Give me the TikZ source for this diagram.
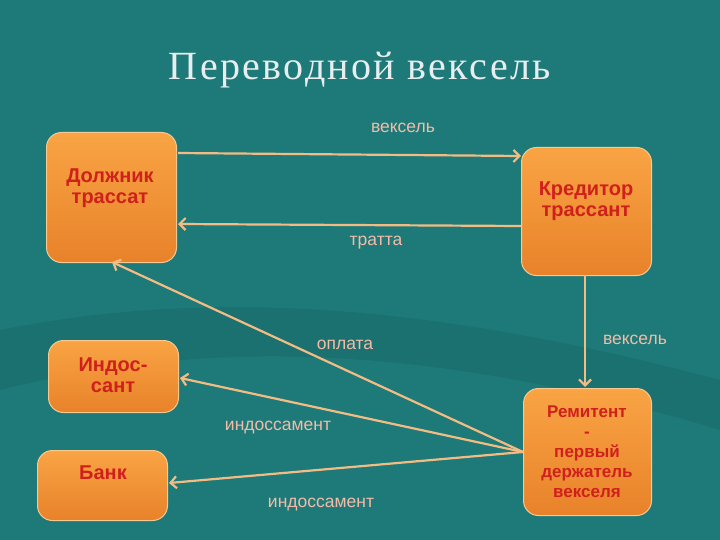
\documentclass[tikz,border=0pt]{standalone}
\usepackage{fontspec}
\setmainfont{Liberation Sans}
\newfontfamily\titlefont[LetterSpace=6]{Liberation Serif}
\usetikzlibrary{arrows.meta}
\definecolor{bg}{HTML}{1E7A78}
\definecolor{boxtop}{HTML}{F9A444}
\definecolor{boxbot}{HTML}{E8822A}
\definecolor{boxline}{HTML}{F8C890}
\definecolor{boxtext}{HTML}{D0201C}
\definecolor{arr}{HTML}{F2BC84}
\definecolor{lbl}{HTML}{F4BBA8}
\definecolor{ttl}{HTML}{E8EEF0}
\tikzset{
  box/.style={draw=boxline, line width=1pt, rounded corners=15pt, top color=boxtop, bottom color=boxbot, anchor=north west},
  btext/.style={text=boxtext, font=\bfseries\fontsize{20}{21}\selectfont, align=center},
  conn/.style={draw=arr, line width=2.2pt, -{Straight Barb[length=6pt,width=12pt]}},
  lab/.style={text=lbl, font=\fontsize{17.5}{19}\selectfont}
}
\begin{document}
\begin{tikzpicture}[x=1pt,y=-1pt]
\fill[bg] (0,0) rectangle (720,540);
\useasboundingbox (0,0) rectangle (720,540);
\fill[bg!80!black, opacity=0.35] (0,330) .. controls (200,290) and (420,300) .. (720,380) -- (720,430) .. controls (420,340) and (200,340) .. (0,390) -- cycle;
\node[text=ttl, font=\titlefont\fontsize{40}{42}\selectfont] (title) at (360,70) {Переводной вексель};
\node[box, minimum width=130pt, minimum height=130pt] (d) at (46,132) {};
\node[box, minimum width=130pt, minimum height=128pt] (k) at (521,147) {};
\node[box, minimum width=130pt, minimum height=72pt] (i) at (48,340) {};
\node[box, minimum width=130pt, minimum height=70pt] (b) at (37,450) {};
\node[box, minimum width=128pt, minimum height=127pt] (r) at (523,388) {};
\node[btext] (dt) at (110,188) {Должник\\трассат};
\node[btext] (kt) at (586,201) {Кредитор\\трассант};
\node[btext] (it) at (113,375) {Индос-\\сант};
\node[btext] (bt) at (103,473) {Банк};
\node[btext, font=\bfseries\fontsize{17}{20}\selectfont] (rt) at (587,452) {Ремитент\\-\\первый\\держатель\\векселя};
\coordinate (r0) at (523,452);
\draw[conn] (178,153) -- (521,156);
\draw[conn] (521,226) -- (178,224);
\draw[conn] (585,275) -- (585,387);
\draw[conn] (r0) -- (112,262);
\draw[conn] (r0) -- (180,378);
\draw[conn] (r0) -- (169,483);
\node[lab] (l1) at (403,128) {вексель};
\node[lab] (l2) at (376,243) {тратта};
\node[lab] (l3) at (635,340) {вексель};
\node[lab] (l4) at (345,345) {оплата};
\node[lab] (l5) at (278,428) {индоссамент};
\node[lab] (l6) at (321,505) {индоссамент};
\end{tikzpicture}
\end{document}
